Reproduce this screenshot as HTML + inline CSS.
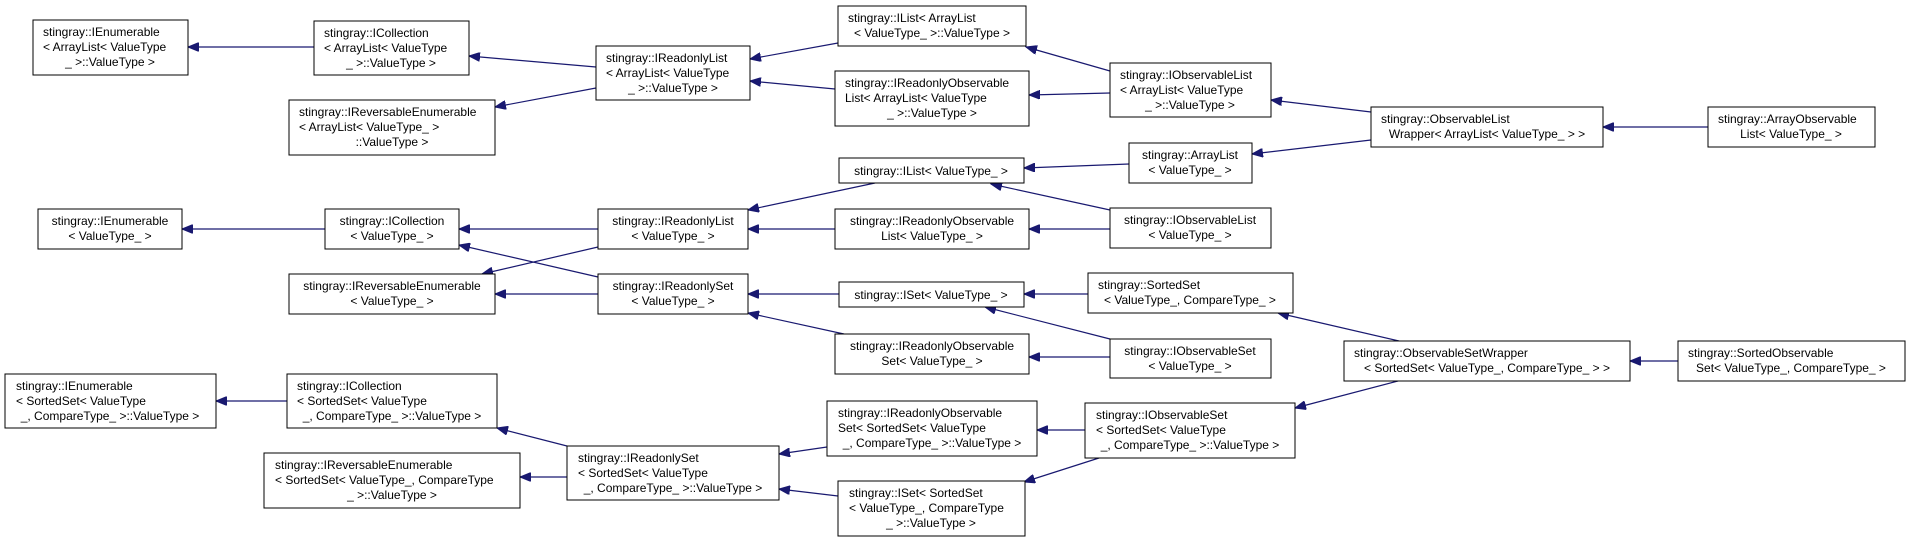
<!DOCTYPE html>
<html><head><meta charset="utf-8"><style>
html,body{margin:0;padding:0;background:#fff;}
svg{display:block;}
text{font-family:"Liberation Sans",Arial,sans-serif;font-size:12px;fill:#000;}
rect{fill:#fff;stroke:#000;stroke-width:1;}
line{stroke:#191970;stroke-width:1.2;}
</style></head><body>
<svg width="1909" height="543" viewBox="0 0 1909 543" xmlns="http://www.w3.org/2000/svg">
<defs><marker id="a" markerUnits="userSpaceOnUse" markerWidth="12" markerHeight="9" refX="11" refY="4.5" orient="auto"><path d="M0,0 L11,4.5 L0,9 z" fill="#191970" stroke="#191970"/></marker></defs>
<g marker-end="url(#a)">
<line x1="314" y1="47" x2="188" y2="47"/>
<line x1="596" y1="67" x2="469" y2="56"/>
<line x1="596" y1="88" x2="495" y2="107"/>
<line x1="838" y1="43" x2="750" y2="59"/>
<line x1="835" y1="89" x2="750" y2="81"/>
<line x1="1110" y1="71" x2="1026" y2="47"/>
<line x1="1110" y1="93" x2="1029" y2="95"/>
<line x1="1371" y1="112" x2="1271" y2="100"/>
<line x1="1371" y1="140" x2="1252" y2="154"/>
<line x1="1708" y1="127" x2="1603" y2="127"/>
<line x1="1129" y1="164" x2="1024" y2="168"/>
<line x1="1110" y1="210" x2="991" y2="184"/>
<line x1="1110" y1="229" x2="1029" y2="229"/>
<line x1="835" y1="229" x2="748" y2="229"/>
<line x1="875" y1="183" x2="748" y2="210"/>
<line x1="598" y1="229" x2="459" y2="229"/>
<line x1="325" y1="229" x2="182" y2="229"/>
<line x1="598" y1="247" x2="482" y2="274"/>
<line x1="598" y1="277" x2="459" y2="245"/>
<line x1="598" y1="294" x2="495" y2="294"/>
<line x1="839" y1="294" x2="748" y2="294"/>
<line x1="844" y1="334" x2="748" y2="313"/>
<line x1="1088" y1="294" x2="1024" y2="294"/>
<line x1="1110" y1="339" x2="985" y2="307"/>
<line x1="1110" y1="357" x2="1029" y2="357"/>
<line x1="1399" y1="341" x2="1278" y2="313"/>
<line x1="1398" y1="381" x2="1295" y2="408"/>
<line x1="1678" y1="361" x2="1630" y2="361"/>
<line x1="287" y1="401" x2="216" y2="401"/>
<line x1="567" y1="446" x2="497" y2="428"/>
<line x1="567" y1="477" x2="520" y2="477"/>
<line x1="827" y1="447" x2="779" y2="454"/>
<line x1="838" y1="496" x2="779" y2="489"/>
<line x1="1085" y1="430" x2="1037" y2="430"/>
<line x1="1099" y1="458" x2="1024" y2="482"/>
</g>

<rect x="33" y="20" width="155" height="55"/><text x="43" y="36">stingray::IEnumerable</text><text x="43" y="51">&lt; ArrayList&lt; ValueType</text><text x="110" y="66" text-anchor="middle">_ &gt;::ValueType &gt;</text>
<rect x="314" y="21" width="155" height="54"/><text x="324" y="37">stingray::ICollection</text><text x="324" y="52">&lt; ArrayList&lt; ValueType</text><text x="391" y="67" text-anchor="middle">_ &gt;::ValueType &gt;</text>
<rect x="289" y="100" width="206" height="55"/><text x="299" y="116">stingray::IReversableEnumerable</text><text x="299" y="131">&lt; ArrayList&lt; ValueType_ &gt;</text><text x="392" y="146" text-anchor="middle">::ValueType &gt;</text>
<rect x="596" y="46" width="154" height="54"/><text x="606" y="62">stingray::IReadonlyList</text><text x="606" y="77">&lt; ArrayList&lt; ValueType</text><text x="673" y="92" text-anchor="middle">_ &gt;::ValueType &gt;</text>
<rect x="838" y="6" width="188" height="40"/><text x="848" y="22">stingray::IList&lt; ArrayList</text><text x="932" y="37" text-anchor="middle">&lt; ValueType_ &gt;::ValueType &gt;</text>
<rect x="835" y="71" width="194" height="55"/><text x="845" y="87">stingray::IReadonlyObservable</text><text x="845" y="102">List&lt; ArrayList&lt; ValueType</text><text x="932" y="117" text-anchor="middle">_ &gt;::ValueType &gt;</text>
<rect x="1110" y="63" width="161" height="54"/><text x="1120" y="79">stingray::IObservableList</text><text x="1120" y="94">&lt; ArrayList&lt; ValueType</text><text x="1190" y="109" text-anchor="middle">_ &gt;::ValueType &gt;</text>
<rect x="1371" y="107" width="232" height="40"/><text x="1381" y="123">stingray::ObservableList</text><text x="1487" y="138" text-anchor="middle">Wrapper&lt; ArrayList&lt; ValueType_ &gt; &gt;</text>
<rect x="1708" y="107" width="167" height="40"/><text x="1718" y="123">stingray::ArrayObservable</text><text x="1791" y="138" text-anchor="middle">List&lt; ValueType_ &gt;</text>
<rect x="839" y="158" width="185" height="25"/><text x="931" y="175" text-anchor="middle">stingray::IList&lt; ValueType_ &gt;</text>
<rect x="1129" y="143" width="123" height="40"/><text x="1190" y="159" text-anchor="middle">stingray::ArrayList</text><text x="1190" y="174" text-anchor="middle">&lt; ValueType_ &gt;</text>
<rect x="38" y="209" width="144" height="40"/><text x="110" y="225" text-anchor="middle">stingray::IEnumerable</text><text x="110" y="240" text-anchor="middle">&lt; ValueType_ &gt;</text>
<rect x="325" y="209" width="134" height="40"/><text x="392" y="225" text-anchor="middle">stingray::ICollection</text><text x="392" y="240" text-anchor="middle">&lt; ValueType_ &gt;</text>
<rect x="598" y="209" width="150" height="40"/><text x="673" y="225" text-anchor="middle">stingray::IReadonlyList</text><text x="673" y="240" text-anchor="middle">&lt; ValueType_ &gt;</text>
<rect x="835" y="209" width="194" height="40"/><text x="932" y="225" text-anchor="middle">stingray::IReadonlyObservable</text><text x="932" y="240" text-anchor="middle">List&lt; ValueType_ &gt;</text>
<rect x="1110" y="208" width="161" height="40"/><text x="1190" y="224" text-anchor="middle">stingray::IObservableList</text><text x="1190" y="239" text-anchor="middle">&lt; ValueType_ &gt;</text>
<rect x="289" y="274" width="206" height="40"/><text x="392" y="290" text-anchor="middle">stingray::IReversableEnumerable</text><text x="392" y="305" text-anchor="middle">&lt; ValueType_ &gt;</text>
<rect x="598" y="274" width="150" height="40"/><text x="673" y="290" text-anchor="middle">stingray::IReadonlySet</text><text x="673" y="305" text-anchor="middle">&lt; ValueType_ &gt;</text>
<rect x="839" y="282" width="185" height="25"/><text x="931" y="299" text-anchor="middle">stingray::ISet&lt; ValueType_ &gt;</text>
<rect x="1088" y="273" width="205" height="40"/><text x="1098" y="289">stingray::SortedSet</text><text x="1190" y="304" text-anchor="middle">&lt; ValueType_, CompareType_ &gt;</text>
<rect x="835" y="334" width="194" height="40"/><text x="932" y="350" text-anchor="middle">stingray::IReadonlyObservable</text><text x="932" y="365" text-anchor="middle">Set&lt; ValueType_ &gt;</text>
<rect x="1110" y="339" width="161" height="39"/><text x="1190" y="355" text-anchor="middle">stingray::IObservableSet</text><text x="1190" y="370" text-anchor="middle">&lt; ValueType_ &gt;</text>
<rect x="1344" y="341" width="286" height="40"/><text x="1354" y="357">stingray::ObservableSetWrapper</text><text x="1487" y="372" text-anchor="middle">&lt; SortedSet&lt; ValueType_, CompareType_ &gt; &gt;</text>
<rect x="1678" y="341" width="227" height="40"/><text x="1688" y="357">stingray::SortedObservable</text><text x="1791" y="372" text-anchor="middle">Set&lt; ValueType_, CompareType_ &gt;</text>
<rect x="5" y="374" width="211" height="54"/><text x="16" y="390">stingray::IEnumerable</text><text x="16" y="405">&lt; SortedSet&lt; ValueType</text><text x="110" y="420" text-anchor="middle">_, CompareType_ &gt;::ValueType &gt;</text>
<rect x="287" y="374" width="210" height="54"/><text x="297" y="390">stingray::ICollection</text><text x="297" y="405">&lt; SortedSet&lt; ValueType</text><text x="392" y="420" text-anchor="middle">_, CompareType_ &gt;::ValueType &gt;</text>
<rect x="264" y="453" width="256" height="55"/><text x="275" y="469">stingray::IReversableEnumerable</text><text x="275" y="484">&lt; SortedSet&lt; ValueType_, CompareType</text><text x="392" y="499" text-anchor="middle">_ &gt;::ValueType &gt;</text>
<rect x="567" y="446" width="212" height="54"/><text x="578" y="462">stingray::IReadonlySet</text><text x="578" y="477">&lt; SortedSet&lt; ValueType</text><text x="673" y="492" text-anchor="middle">_, CompareType_ &gt;::ValueType &gt;</text>
<rect x="827" y="401" width="210" height="55"/><text x="838" y="417">stingray::IReadonlyObservable</text><text x="838" y="432">Set&lt; SortedSet&lt; ValueType</text><text x="932" y="447" text-anchor="middle">_, CompareType_ &gt;::ValueType &gt;</text>
<rect x="838" y="481" width="187" height="55"/><text x="849" y="497">stingray::ISet&lt; SortedSet</text><text x="849" y="512">&lt; ValueType_, CompareType</text><text x="931" y="527" text-anchor="middle">_ &gt;::ValueType &gt;</text>
<rect x="1085" y="403" width="210" height="55"/><text x="1096" y="419">stingray::IObservableSet</text><text x="1096" y="434">&lt; SortedSet&lt; ValueType</text><text x="1190" y="449" text-anchor="middle">_, CompareType_ &gt;::ValueType &gt;</text>
</svg>
</body></html>
